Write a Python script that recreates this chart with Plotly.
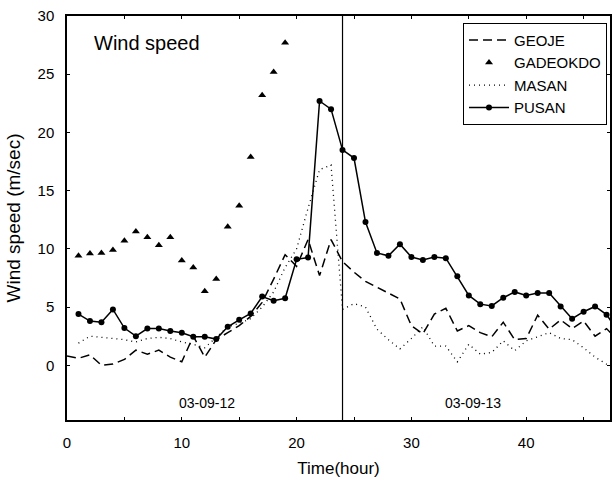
import plotly.graph_objects as go

hours = list(range(0, 49))

geoje_x = list(range(0, 49))
geoje = [0.8, 0.6, 0.9, 0.0, 0.1, 0.5, 1.3, 0.95, 1.3, 0.7,
         0.3, 2.5, 0.7, 2.2, 2.8, 3.4, 4.2, 5.4, 7.4, 9.5,
         8.5, 10.8, 7.7, 10.8, 8.9, 8.0, 7.2, 6.7, 6.2, 5.7,
         3.4, 2.7, 4.4, 4.9, 2.95, 3.4, 2.8, 2.45, 3.7, 2.2,
         2.3, 4.3, 3.1, 3.9, 3.15, 3.8, 2.5, 3.15, 2.1]

gadeokdo_x = list(range(1, 20))
gadeokdo = [9.4, 9.6, 9.65, 9.9, 10.7, 11.5, 11.0, 10.3, 11.0, 9.0,
            8.4, 6.35, 7.4, 11.9, 13.7, 17.9, 23.2, 25.2, 27.7]

masan_x = list(range(1, 49))
masan = [1.9, 2.5, 2.4, 2.3, 2.2, 2.0, 2.3, 2.4, 2.3, 2.0,
         1.8, 1.5, 2.4, 3.3, 3.6, 4.0, 5.0, 6.3, 8.4, 10.0,
         13.5, 16.8, 17.2, 4.8, 5.3, 5.0, 3.1, 2.2, 1.4, 2.3,
         3.3, 1.65, 1.65, 0.3, 1.8, 0.95, 1.1, 2.1, 1.25, 2.1,
         2.45, 2.8, 2.3, 2.2, 1.5, 0.7, 0.1, 0.6]

pusan_x = list(range(1, 49))
pusan = [4.4, 3.8, 3.7, 4.8, 3.2, 2.5, 3.15, 3.15, 2.95, 2.8,
         2.45, 2.45, 2.25, 3.3, 3.9, 4.45, 5.9, 5.55, 5.75, 9.1,
         9.25, 22.7, 22.0, 18.5, 17.8, 12.3, 9.65, 9.4, 10.4, 9.3,
         9.05, 9.3, 9.2, 7.65, 6.0, 5.25, 5.1, 5.8, 6.3, 6.0,
         6.2, 6.2, 5.05, 4.0, 4.6, 5.05, 4.35, 2.9]

x_tickvals = [0, 5, 10, 15, 20, 25, 30, 35, 40, 45]
x_ticktext = ["0", "", "10", "", "20", "", "30", "", "40", ""]
y_tickvals = [0, 5, 10, 15, 20, 25, 30]

day_split = 24
day_labels = ["03-09-12", "03-09-13"]
day_label_x = [12.2, 35.4]

FONT = "Liberation Sans, Arial, sans-serif"

fig = go.Figure()
fig.add_trace(go.Scatter(x=geoje_x, y=geoje, name="GEOJE", mode="lines",
                         line=dict(color="black", width=1.5, dash="9px,5px")))
fig.add_trace(go.Scatter(x=gadeokdo_x, y=gadeokdo, name="GADEOKDO", mode="markers",
                         marker=dict(symbol="triangle-up", size=7, color="black")))
fig.add_trace(go.Scatter(x=masan_x, y=masan, name="MASAN", mode="lines",
                         line=dict(color="black", width=1.3, dash="1px,4px")))
fig.add_trace(go.Scatter(x=pusan_x, y=pusan, name="PUSAN", mode="lines+markers",
                         line=dict(color="black", width=1.5),
                         marker=dict(symbol="circle", size=6, color="black")))

fig.add_shape(type="line", xref="x", yref="paper", x0=day_split, x1=day_split,
              y0=0, y1=1, line=dict(color="black", width=1.2))

for lab, lx in zip(day_labels, day_label_x):
    fig.add_annotation(x=lx, y=-3.2, xref="x", yref="y", text=lab, showarrow=False,
                       font=dict(family=FONT, size=14, color="black"))

fig.add_annotation(x=2.2, y=27.7, xref="x", yref="y", text="Wind speed",
                   showarrow=False, xanchor="left", yanchor="middle",
                   font=dict(family=FONT, size=20, color="black"))

fig.update_layout(
    width=612, height=481,
    margin=dict(l=67, r=2, t=16, b=61, autoexpand=False),
    paper_bgcolor="white", plot_bgcolor="white",
    font=dict(family=FONT, size=15, color="black"),
    showlegend=True,
    legend=dict(x=0.9945, y=0.983, xanchor="right", yanchor="top",
                bgcolor="white", bordercolor="black", borderwidth=1,
                font=dict(family=FONT, size=15, color="black"),
                itemwidth=40, tracegroupgap=0),
)
fig.update_xaxes(range=[0, 47.3], tickvals=x_tickvals, ticktext=x_ticktext,
                 ticks="inside", ticklen=3, tickcolor="black", tickwidth=1,
                 showline=True, linecolor="black", linewidth=1.5, mirror="ticks",
                 showgrid=False, zeroline=False, automargin=False,
                 ticklabelstandoff=8, ticklabeloverflow="allow",
                 tickfont=dict(family=FONT, size=15),
                 title=dict(text="Time(hour)", font=dict(family=FONT, size=17), standoff=12))
fig.update_yaxes(range=[-4.7, 30], tickvals=y_tickvals,
                 ticks="inside", ticklen=3, tickcolor="black", tickwidth=1,
                 showline=True, linecolor="black", linewidth=1.5, mirror="ticks",
                 showgrid=False, zeroline=False, automargin=False,
                 ticklabelstandoff=8, ticklabeloverflow="allow",
                 tickfont=dict(family=FONT, size=15),
                 title=dict(text="Wind speed (m/sec)", font=dict(family=FONT, size=19), standoff=12))

fig.write_html(
    "out.html",
    config={"displayModeBar": False},
    post_script="document.body.style.margin='0';document.body.style.overflow='hidden';",
)
